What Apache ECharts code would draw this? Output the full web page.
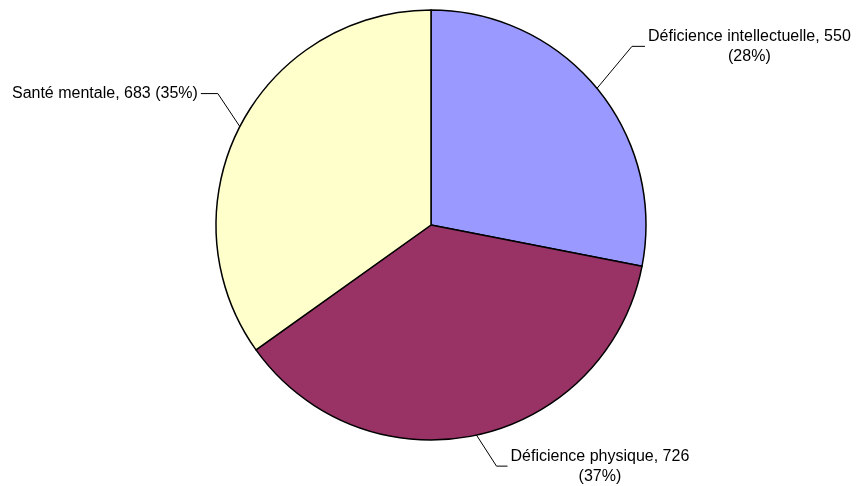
<!DOCTYPE html>
<html>
<head>
<meta charset="utf-8">
<script src="https://cdn.jsdelivr.net/npm/echarts@6/dist/echarts.min.js"></script>
<style>
  html, body { margin: 0; padding: 0; background: #fff; }
  #chart { width: 860px; height: 486px; }
</style>
</head>
<body>
<div id="chart"></div>
<script>
// Répartition par type de déficience
const categories = ['Déficience intellectuelle', 'Déficience physique', 'Santé mentale'];
const values = [550, 726, 683];

// Slice fills
const sliceColors = ['#9999FF', '#993366', '#FFFFCC'];
// Leader lines: elbow offset from the point on the rim, then a horizontal run
const leaderElbow = [[35, -42], [20, 31], [-22, -33]];
const leaderRun = [13, 11, 17];
const percentOnNewLine = [true, true, false];

const FONT = '"Liberation Sans", Arial, Helvetica, sans-serif';

const chart = echarts.init(document.getElementById('chart'), null, { renderer: 'canvas' });
chart.setOption({
  animation: false,
  backgroundColor: '#ffffff',
  series: [{
    type: 'pie',
    center: [431, 225],
    radius: 215,
    startAngle: 90,
    clockwise: true,
    avoidLabelOverlap: false,
    silent: true,
    emphasis: { disabled: true },
    data: categories.map((name, i) => ({
      name: name,
      value: values[i],
      itemStyle: { color: sliceColors[i] }
    })),
    itemStyle: { borderColor: '#000000', borderWidth: 1.5 },
    label: {
      show: true,
      position: 'outside',
      fontFamily: FONT,
      fontSize: 16,
      lineHeight: 20,
      color: '#000000',
      formatter: function (p) {
        const pct = '(' + Math.round(p.percent) + '%)';
        const head = p.name + ', ' + p.value;
        return percentOnNewLine[p.dataIndex]
          ? '{c|' + head + '}\n{c|' + pct + '}'
          : head + ' ' + pct;
      },
      rich: {
        c: { align: 'center', fontFamily: FONT, fontSize: 16, lineHeight: 20, color: '#000000' }
      }
    },
    labelLine: {
      show: true,
      length: 20,
      length2: 10,
      lineStyle: { color: '#000000', width: 1 }
    },
    labelLayout: function (params) {
      const i = params.dataIndex;
      const a = params.labelLinePoints[0];
      const anchor = [a[0], a[1]];
      const elbow = [anchor[0] + leaderElbow[i][0], anchor[1] + leaderElbow[i][1]];
      const right = leaderElbow[i][0] >= 0;
      const end = [elbow[0] + (right ? leaderRun[i] : -leaderRun[i]), elbow[1]];
      return {
        x: end[0] + (right ? 3 : -3),
        y: end[1],
        align: right ? 'left' : 'right',
        verticalAlign: 'middle',
        labelLinePoints: [anchor, elbow, end]
      };
    }
  }]
});
</script>
</body>
</html>
